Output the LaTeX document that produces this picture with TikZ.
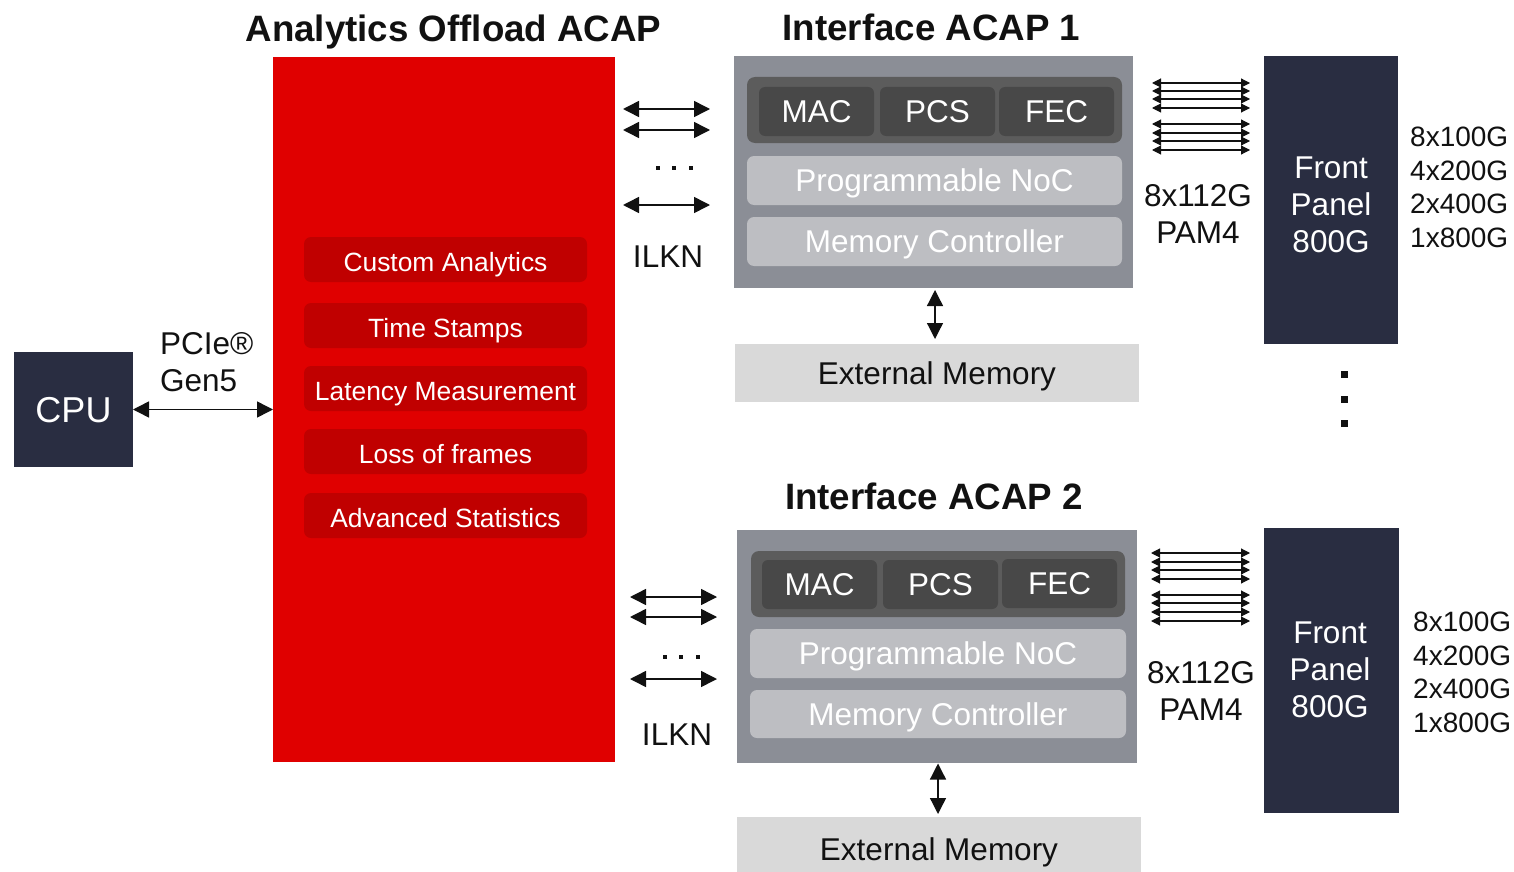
\documentclass[tikz,border=0pt]{standalone}
\usepackage{fontspec}
\setmainfont{Liberation Sans}
\usetikzlibrary{arrows.meta}
\definecolor{acapred}{RGB}{224,0,0}
\definecolor{fnred}{RGB}{192,0,0}
\definecolor{navy}{RGB}{41,45,65}
\definecolor{acapgray}{RGB}{139,142,150}
\definecolor{phybg}{RGB}{92,92,92}
\definecolor{phybox}{RGB}{72,72,72}
\definecolor{lightbox}{RGB}{189,190,194}
\definecolor{memgray}{RGB}{217,217,217}
\definecolor{ink}{RGB}{17,17,17}
\tikzset{
  blk/.style={anchor=north west, inner sep=0pt, outer sep=0pt, draw=none},
  fnbox/.style={blk, fill=fnred, rounded corners=7pt, minimum width=283pt, minimum height=45pt,
    text=white, font=\fontsize{26.4}{30}\selectfont, text height=23pt, text depth=0pt},
  phy/.style={blk, fill=phybox, rounded corners=6pt, minimum width=115pt, minimum height=49pt,
    text=white, font=\fontsize{31.5}{36}\selectfont, text height=22.6pt, text depth=0pt},
  phybase/.style={blk, fill=phybg, rounded corners=8pt, minimum height=66pt},
  lite/.style={blk, fill=lightbox, rounded corners=7pt, minimum height=49pt,
    text=white, font=\fontsize{31.5}{36}\selectfont, text height=22.6pt, text depth=0pt},
  extmem/.style={blk, fill=memgray, minimum width=404pt,
    text=ink, font=\fontsize{31.5}{36}\selectfont, text height=22.6pt, text depth=0pt},
  acapbox/.style={blk, fill=acapgray},
  panel/.style={blk, fill=navy},
  ttl/.style={inner sep=0pt, font=\bfseries\fontsize{36.7}{40}\selectfont, text=ink,
    text height=26.3pt, text depth=0pt},
  lbl/.style={inner sep=0pt, font=\fontsize{31.5}{37}\selectfont, text=ink, align=center},
  spd/.style={inner sep=0pt, font=\fontsize{28}{33.7}\selectfont, text=ink, align=left, anchor=west},
  big/.style={{Triangle[length=16pt,width=16pt]}-{Triangle[length=16pt,width=16pt]}, line width=1.5pt, draw=ink},
  lane/.style={{Triangle[length=9pt,width=9pt]}-{Triangle[length=9pt,width=9pt]}, line width=1.1pt, draw=ink},
  dotsq/.style={fill=ink, inner sep=0pt, minimum size=4pt},
  bigdot/.style={fill=ink, inner sep=0pt, minimum size=7pt},
}
\begin{document}
\begin{tikzpicture}[x=1pt,y=-1pt]
\useasboundingbox (0,0) rectangle (1514,872);

% titles
\node[ttl] (t0) at (453.5,28) {Analytics Offload ACAP};
\node[ttl] (t1) at (931.5,27) {Interface ACAP 1};
\node[ttl] (t2) at (934,496) {Interface ACAP 2};

% CPU
\node[panel, minimum width=119pt, minimum height=115pt, text=white,
  font=\fontsize{36}{40}\selectfont, text height=25.8pt, text depth=0pt] (cpu) at (14,352) {CPU};

% Analytics offload ACAP
\node[blk, fill=acapred, minimum width=342pt, minimum height=705pt] (red) at (273,57) {};
\node[fnbox] (f1) at (304,237) {Custom Analytics};
\node[fnbox] (f2) at (304,303) {Time Stamps};
\node[fnbox] (f3) at (304,366) {Latency Measurement};
\node[fnbox] (f4) at (304,429) {Loss of frames};
\node[fnbox] (f5) at (304,493) {Advanced Statistics};

\node[lbl, align=left, anchor=west] (pcie) at (160,362.5) {PCIe®\\Gen5};
\draw[big] (cpu.east) -- (red.west);

% ---------- Interface ACAP 1 ----------
\node[acapbox, minimum width=399pt, minimum height=232pt] (a1) at (734,56) {};
\node[phybase, minimum width=375pt] (p1) at (747,77) {};
\node[phy] (mac1) at (759,87) {MAC};
\node[phy] (pcs1) at (880,87) {PCS};
\node[phy] (fec1) at (999,87) {FEC};
\node[lite, minimum width=375pt] (noc1) at (747,156) {Programmable NoC};
\node[lite, minimum width=375pt] (mc1) at (747,217) {Memory Controller};
\node[extmem, minimum height=58pt] (em1) at (735,344) {External Memory};
\coordinate (v1) at (935,0);
\draw[big, line width=1.3pt, shorten <=2pt, shorten >=5pt] (a1.south -| v1) -- (em1.north -| v1);

\foreach \n/\yy in {a/109,b/130,c/205}{
  \coordinate (il1\n L) at (623,\yy);
  \coordinate (il1\n R) at (710,\yy);
  \draw[big] (il1\n L) -- (il1\n R);
}
\node[dotsq] (d1a) at (658,168) {};
\node[dotsq] (d1b) at (674,168) {};
\node[dotsq] (d1c) at (691,168) {};
\node[lbl] (ilkn1) at (668,257) {ILKN};

\foreach \n/\yy in {1/83,2/91,3/99,4/108,5/124,6/133,7/141,8/150}{
  \coordinate (ln1\n L) at (1152,\yy);
  \coordinate (ln1\n R) at (1250,\yy);
  \draw[lane] (ln1\n L) -- (ln1\n R);
}
\node[lbl] (pam1) at (1198,214.5) {8x112G\\PAM4};
\node[panel, minimum width=134pt, minimum height=288pt] (fp1) at (1264,56) {};
\node[lbl, text=white] (fpt1) at (1331,205) {Front\\Panel\\800G};
\node[spd] (sp1) at (1410,187.5) {8x100G\\4x200G\\2x400G\\1x800G};

\node[bigdot] (vd1) at (1344,374) {};
\node[bigdot] (vd2) at (1344,399) {};
\node[bigdot] (vd3) at (1344,423) {};

% ---------- Interface ACAP 2 ----------
\node[acapbox, minimum width=400pt, minimum height=233pt] (a2) at (737,530) {};
\node[phybase, minimum width=374pt] (p2) at (751,551) {};
\node[phy] (mac2) at (762,560) {MAC};
\node[phy] (pcs2) at (883,560) {PCS};
\node[phy] (fec2) at (1002,559) {FEC};
\node[lite, minimum width=376pt] (noc2) at (750,629) {Programmable NoC};
\node[lite, minimum width=376pt, minimum height=48pt] (mc2) at (750,690) {Memory Controller};
\node[extmem, minimum height=64pt] (em2) at (737,817) {External Memory};
\coordinate (v2) at (938,0);
\draw[big, line width=1.3pt, shorten <=0.5pt, shorten >=3pt] (a2.south -| v2) -- (em2.north -| v2);

\foreach \n/\yy in {a/597,b/617,c/679}{
  \coordinate (il2\n L) at (630,\yy);
  \coordinate (il2\n R) at (717,\yy);
  \draw[big] (il2\n L) -- (il2\n R);
}
\node[dotsq] (d2a) at (665,657) {};
\node[dotsq] (d2b) at (681,657) {};
\node[dotsq] (d2c) at (698,657) {};
\node[lbl] (ilkn2) at (677,735) {ILKN};

\foreach \n/\yy in {1/553,2/562,3/570,4/579,5/595,6/603,7/612,8/621}{
  \coordinate (ln2\n L) at (1151,\yy);
  \coordinate (ln2\n R) at (1250,\yy);
  \draw[lane] (ln2\n L) -- (ln2\n R);
}
\node[lbl] (pam2) at (1201,690.5) {8x112G\\PAM4};
\node[panel, minimum width=135pt, minimum height=285pt] (fp2) at (1264,528) {};
\node[lbl, text=white] (fpt2) at (1330,669.5) {Front\\Panel\\800G};
\node[spd] (sp2) at (1413,672.5) {8x100G\\4x200G\\2x400G\\1x800G};
\end{tikzpicture}
\end{document}
